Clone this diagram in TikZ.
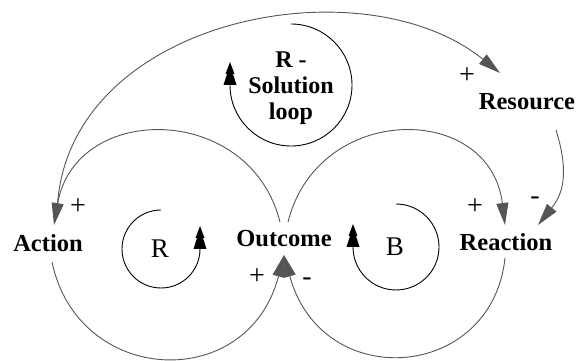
\documentclass[tikz,border=0pt]{standalone}
\usepackage{fontspec}
\setmainfont{Liberation Serif}[UprightFont=*, BoldFont=* Bold]
\usetikzlibrary{arrows.meta}
\definecolor{linkgray}{HTML}{555555}
\begin{document}
\begin{tikzpicture}[x=1pt,y=1pt,
  lbl/.style={font=\fontsize{24.5}{26}\selectfont\bfseries, inner sep=0pt, align=center},
  sollbl/.style={font=\fontsize{24}{26}\selectfont\bfseries, inner sep=0pt, align=center},
  sgn/.style={font=\fontsize{28}{30}\selectfont, inner sep=0pt},
  loopname/.style={font=\fontsize{27}{30}\selectfont, inner sep=0pt},
  link/.style={draw=linkgray, line width=0.9pt, -{Triangle[length=22pt,width=12pt]}},
  loopline/.style={draw=black, line width=0.9pt},
  ltip/.pic={\fill[black] (0,23) -- (4.5,11) -- (3,11) -- (6.5,0) -- (-6.5,0) -- (-3,11) -- (-4.5,11) -- cycle;}
]
\useasboundingbox (0,0) rectangle (576,361);

% variables
\node[lbl] (act) at (48,118) {Action};
\node[lbl] (out) at (284,122) {Outcome};
\node[lbl] (rea) at (506,119) {Reaction};
\node[lbl] (res) at (527,259.5) {Resource};
\node[sollbl,anchor=north] (sol) at (291,309) {R -\\Solution\\loop};
\node[loopname] (rl) at (160,112) {R};
\node[loopname] (bl) at (395,114) {B};

% polarity signs
\node[sgn] (s1) at (78,154) {+};
\node[sgn] (s2) at (467,285) {+};
\node[sgn] (s3) at (535,160) {-};
\node[sgn] (s4) at (475,154) {+};
\node[sgn] (s5) at (257,84) {+};
\node[sgn] (s6) at (307,79) {-};

% causal links
\draw[link] ([shift={(4,-19)}]act.center) .. controls (78,-25) and (248,-33) .. ([shift={(0,-16)}]out.center);
\draw[link] ([shift={(-1,-16)}]rea.center) .. controls (492,-20) and (322,-33) .. ([shift={(0,-16)}]out.center);
\draw[link] ([shift={(-4,17)}]out.center) .. controls (250,259) and (75,259) .. ([shift={(6,18)}]act.center);
\draw[link] ([shift={(4,17)}]out.center) .. controls (318,259) and (490,259) .. ([shift={(-1,17)}]rea.center);
\draw[link] ([shift={(29,-28.5)}]res.center) .. controls (570,186) and (562,166) .. ([shift={(32,17)}]rea.center);
\draw[link] ([shift={(9,28)}]act.center) .. controls (60,341) and (360,401) .. ([shift={(-27,28.5)}]res.center);

% loop markers
\draw[loopline] (161,151) arc[start angle=90, end angle=360, radius=39];
\pic at (200,112) {ltip};
\draw[loopline] (396,157) arc[start angle=90, end angle=-180, radius=43];
\pic at (353,114) {ltip};
\draw[loopline] (291,337) arc[start angle=90, end angle=-180, radius=61];
\pic at (230,276) {ltip};
\end{tikzpicture}
\end{document}
